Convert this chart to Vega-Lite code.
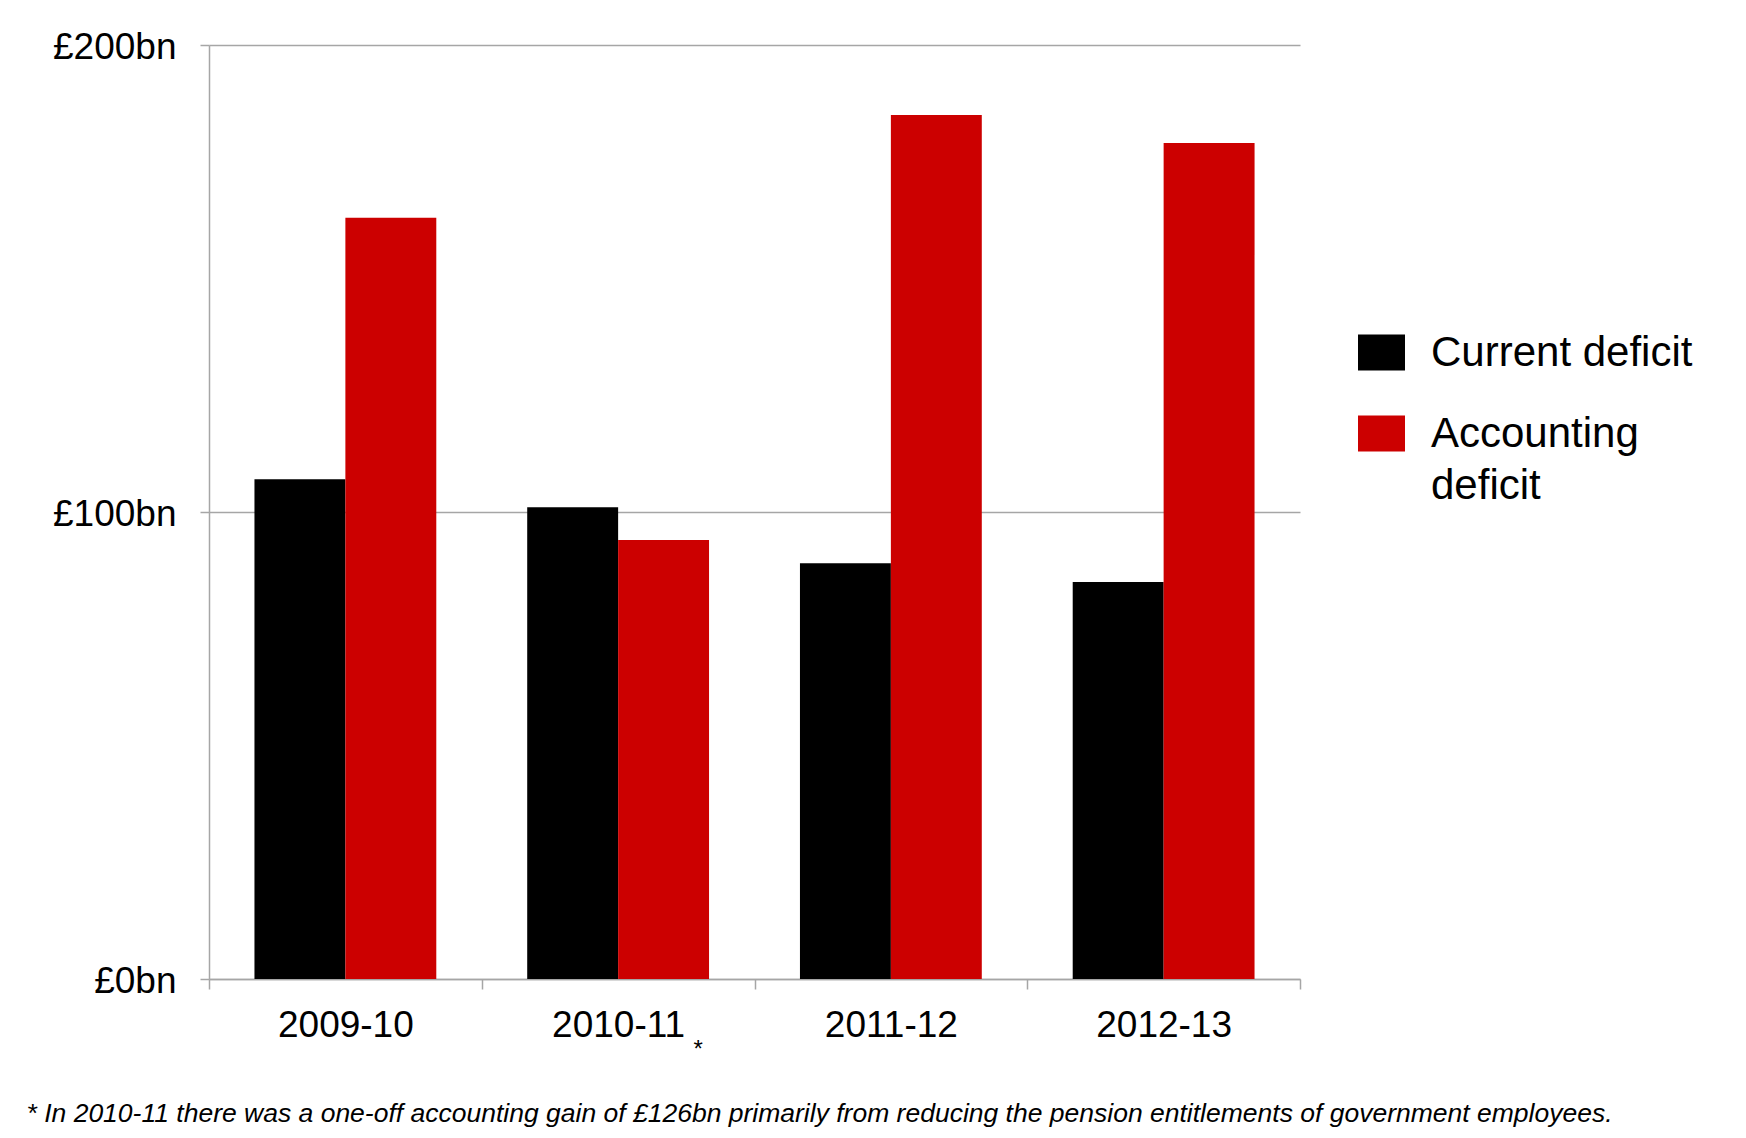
{
  "$schema": "https://vega.github.io/schema/vega-lite/v6.json",
  "width": 1091,
  "height": 934,
  "autosize": {"type": "none"},
  "padding": {"left": 209, "top": 45, "right": 446, "bottom": 159},
  "background": "white",
  "config": {
    "font": "Liberation Sans",
    "view": {"stroke": null},
    "style": {"guide-label": {"lineHeight": 52}}
  },
  "encoding": {
    "x": {
      "field": "Year",
      "type": "nominal",
      "sort": ["2009-10", "2010-11", "2011-12", "2012-13"],
      "scale": {"paddingInner": 0, "paddingOuter": 0},
      "axis": {
        "title": "* In 2010-11 there was a one-off accounting gain of £126bn primarily from reducing the pension entitlements of government employees.",
        "titleX": -183,
        "titleY": 142,
        "titleAlign": "left",
        "titleAnchor": "start",
        "titleBaseline": "alphabetic",
        "titleFontSize": 26.5,
        "titleFontStyle": "italic",
        "titleFontWeight": "normal",
        "titleColor": "#000000",
        "labelAngle": 0,
        "labelFontSize": 37,
        "labelColor": "#000000",
        "labelPadding": 18,
        "tickBand": "extent",
        "tickSize": 10,
        "tickColor": "#A6A6A6",
        "tickWidth": 1.5,
        "domainColor": "#A6A6A6",
        "domainWidth": 1.5
      }
    }
  },
  "layer": [
    {
      "data": {
        "values": [
          {"Year": "2009-10", "Series": "Current deficit", "Value": 107},
          {"Year": "2009-10", "Series": "Accounting deficit", "Value": 163},
          {"Year": "2010-11", "Series": "Current deficit", "Value": 101},
          {"Year": "2010-11", "Series": "Accounting deficit", "Value": 94},
          {"Year": "2011-12", "Series": "Current deficit", "Value": 89},
          {"Year": "2011-12", "Series": "Accounting deficit", "Value": 185},
          {"Year": "2012-13", "Series": "Current deficit", "Value": 85},
          {"Year": "2012-13", "Series": "Accounting deficit", "Value": 179}
        ]
      },
      "mark": {"type": "bar"},
      "encoding": {
        "xOffset": {
          "field": "Series",
          "type": "nominal",
          "sort": ["Current deficit", "Accounting deficit"],
          "scale": {"paddingInner": 0, "paddingOuter": 0.5}
        },
        "y": {
          "field": "Value",
          "type": "quantitative",
          "scale": {"domain": [0, 200], "nice": false},
          "axis": {
            "title": null,
            "values": [0, 100, 200],
            "labelExpr": "'£' + datum.value + 'bn'",
            "grid": true,
            "gridColor": "#A6A6A6",
            "gridWidth": 1.5,
            "domainColor": "#A6A6A6",
            "domainWidth": 1.5,
            "tickColor": "#A6A6A6",
            "tickWidth": 1.5,
            "tickSize": 9,
            "labelPadding": 24,
            "labelFontSize": 37,
            "labelColor": "#000000",
            "labelOffset": 2
          }
        },
        "color": {
          "field": "Series",
          "type": "nominal",
          "scale": {"domain": ["Current deficit", "Accounting deficit"], "range": ["#000000", "#CC0000"]},
          "legend": {
            "title": null,
            "orient": "none",
            "legendX": 1149,
            "legendY": 284,
            "padding": 0,
            "symbolType": "M-1,-0.766L1,-0.766L1,0.766L-1,0.766Z",
            "symbolSize": 2209,
            "symbolStrokeWidth": 0,
            "labelFontSize": 42,
            "labelColor": "#000000",
            "labelOffset": 26,
            "labelBaseline": "middle",
            "labelLimit": 500,
            "rowPadding": 36,
            "labelExpr": "datum.label == 'Accounting deficit' ? ['Accounting', 'deficit'] : datum.label"
          }
        }
      }
    },
    {
      "data": {"values": [{"Year": "2010-11", "Note": "*"}]},
      "mark": {"type": "text", "dx": 80, "dy": 78, "fontSize": 24, "baseline": "alphabetic", "align": "center", "color": "#000000"},
      "encoding": {
        "y": {"datum": 0, "type": "quantitative", "axis": {"title": null}},
        "text": {"field": "Note"}
      }
    }
  ]
}
